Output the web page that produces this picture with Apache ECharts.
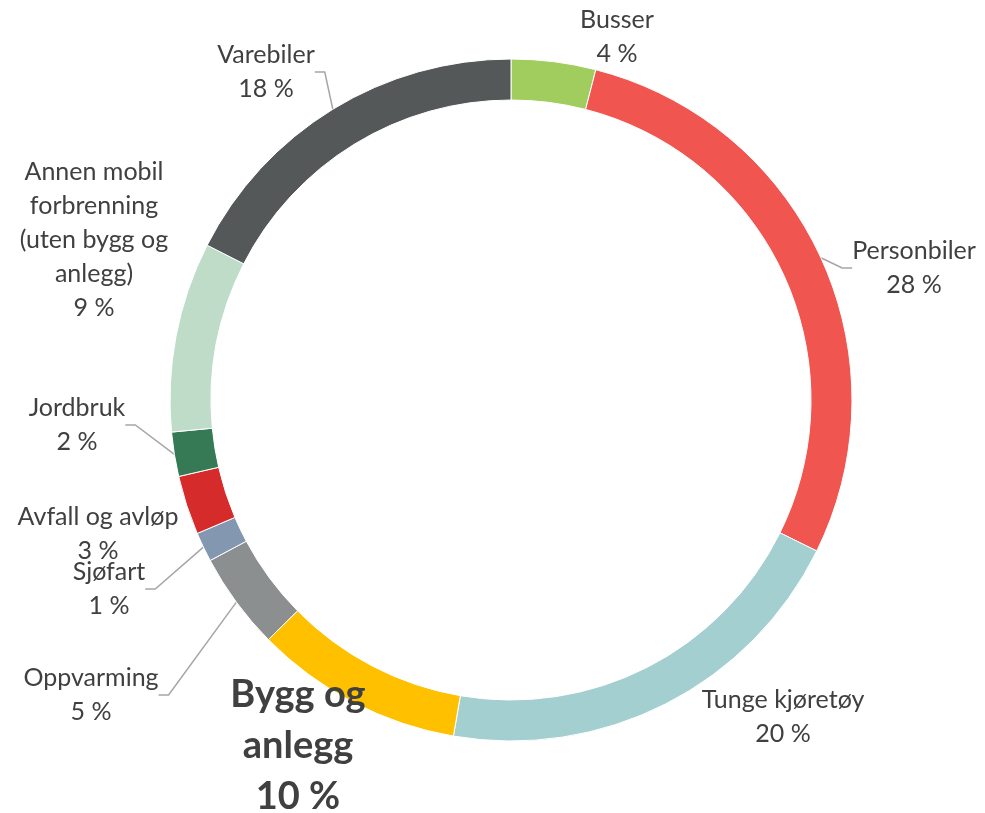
<!DOCTYPE html>
<html>
<head>
<meta charset="utf-8">
<script src="https://cdn.jsdelivr.net/npm/echarts@6/dist/echarts.min.js"></script>
<style>
  html, body { margin: 0; padding: 0; background: #fff; }
  #main { width: 985px; height: 813px; }
</style>
</head>
<body>
<div id="main"></div>
<script>
// kategorier og andeler (prosent), med klokka fra toppen
const categories = [
  'Busser',
  'Personbiler',
  'Tunge kjøretøy',
  'Bygg og\nanlegg',
  'Oppvarming',
  'Sjøfart',
  'Avfall og avløp',
  'Jordbruk',
  'Annen mobil\nforbrenning\n(uten bygg og\nanlegg)',
  'Varebiler'
];
const shares = [4.0, 28.3, 20.4, 9.9, 4.6, 1.4, 2.8, 2.1, 9.0, 17.5];
const colors = ['#a0cd5e', '#f15550', '#a4cfd0', '#ffc000', '#8b8f8f',
  '#8497b0', '#d62b2b', '#367a55', '#bfdcc9', '#545859'];

// plassering av etikettene (sentrum av tekstblokk) og om de har linje
const labelPos = [
  [617, 37], [914, 268], [783, 717], [298, 746], [91, 695],
  [109, 589], [98, 534], [77, 425], [94, 240], [266, 72]
];
const withLine = [false, true, false, false, true, true, false, true, false, true];

const chart = echarts.init(document.getElementById('main'));

const option = {
  animation: false,
  series: [
    {
      type: 'pie',
      center: [511, 400],
      radius: [300, 341],
      startAngle: 90,
      clockwise: true,
      avoidLabelOverlap: false,
      itemStyle: {
        borderColor: '#fff',
        borderWidth: 1
      },
      label: {
        show: true,
        position: 'outside',
        fontFamily: 'Lato',
        fontSize: 25,
        lineHeight: 34,
        color: '#404040',
        align: 'center',
        formatter: function (p) {
          return p.name + '\n' + Math.round(p.value) + ' %';
        }
      },
      labelLine: {
        show: true,
        length: 10,
        length2: 10,
        lineStyle: { color: '#a6a6a6', width: 1.5 }
      },
      labelLayout: function (p) {
        const pos = labelPos[p.dataIndex];
        return { x: pos[0], y: pos[1], align: 'center', verticalAlign: 'middle' };
      },
      data: categories.map(function (name, i) {
        const item = {
          name: name,
          value: shares[i],
          itemStyle: { color: colors[i] },
          labelLine: { show: withLine[i] }
        };
        if (i === 3) {
          item.label = { fontSize: 38, fontWeight: 'bold', lineHeight: 51 };
        }
        return item;
      })
    }
  ]
};

option && chart.setOption(option);
</script>
</body>
</html>
